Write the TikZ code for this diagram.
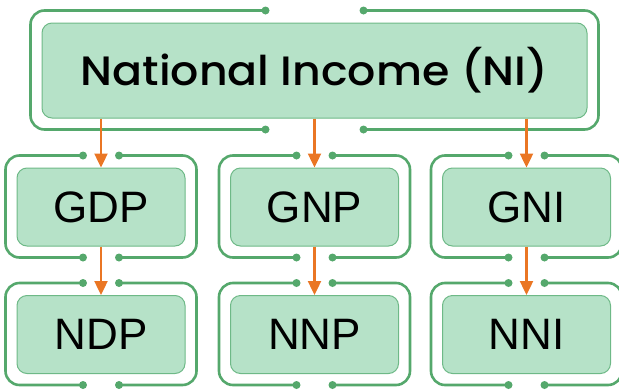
\documentclass[tikz,border=0pt]{standalone}
\usepackage{fontspec}
\setmainfont{Liberation Sans}
\newfontfamily\titlefont{Poppins Medium}[FakeStretch=1.08]
\usetikzlibrary{arrows.meta,calc}

\definecolor{boxfill}{RGB}{182,226,200}
\definecolor{boxline}{RGB}{110,185,135}
\definecolor{brk}{RGB}{85,168,108}
\definecolor{arr}{RGB}{234,118,36}

\tikzset{
  incbox/.style={draw=boxline, line width=1pt, fill=boxfill, rounded corners=10pt,
    minimum width=168pt, minimum height=78pt, inner sep=0pt,
    font=\fontsize{44}{44}\selectfont},
  nibox/.style={incbox, minimum width=545pt, minimum height=95pt,
    font=\titlefont\fontsize{41}{41}\selectfont},
  brkline/.style={draw=brk, line width=2.6pt, rounded corners=14pt},
  flow/.style={draw=arr, line width=2.4pt, -{Triangle[width=13pt,length=14pt]}}
}

\begin{document}
\begin{tikzpicture}[x=1pt, y=-1pt]
	\useasboundingbox (0,0) rectangle (619,389);

	\node [nibox] (ni) at (314.5,70.5) {National Income (NI)};

	\node [incbox] (gdp) at (101,207) {GDP};
	\node [incbox] (gnp) at (314.5,207) {GNP};
	\node [incbox] (gni) at (526.5,207) {GNI};

	\node [incbox] (ndp) at (101,334.5) {NDP};
	\node [incbox] (nnp) at (314.5,334.5) {NNP};
	\node [incbox] (nni) at (526.5,334.5) {NNI};

	% open frames round each box
	\foreach \n/\g in {ni/49, gdp/18, gnp/18, gni/18, ndp/18, nnp/18, nni/18} {
		\draw [brkline] ($(\n.north)+(-\g,-12)$) -| ($(\n.west)+(-11,0)$) |- ($(\n.south)+(-\g,11)$);
		\draw [brkline] ($(\n.north)+(\g,-12)$) -| ($(\n.east)+(11,0)$) |- ($(\n.south)+(\g,11)$);
		\fill [brk] ($(\n.north)+(-\g,-12)$) circle (4pt) ($(\n.north)+(\g,-12)$) circle (4pt)
			($(\n.south)+(-\g,11)$) circle (4pt) ($(\n.south)+(\g,11)$) circle (4pt);
	}

	\draw [flow] (ni.south -| gdp.north) -- (gdp.north);
	\draw [flow] (ni.south -| gnp.north) -- (gnp.north);
	\draw [flow] (ni.south -| gni.north) -- (gni.north);

	\draw [flow] (gdp) -- (ndp);
	\draw [flow] (gnp) -- (nnp);
	\draw [flow] (gni) -- (nni);
\end{tikzpicture}
\end{document}
